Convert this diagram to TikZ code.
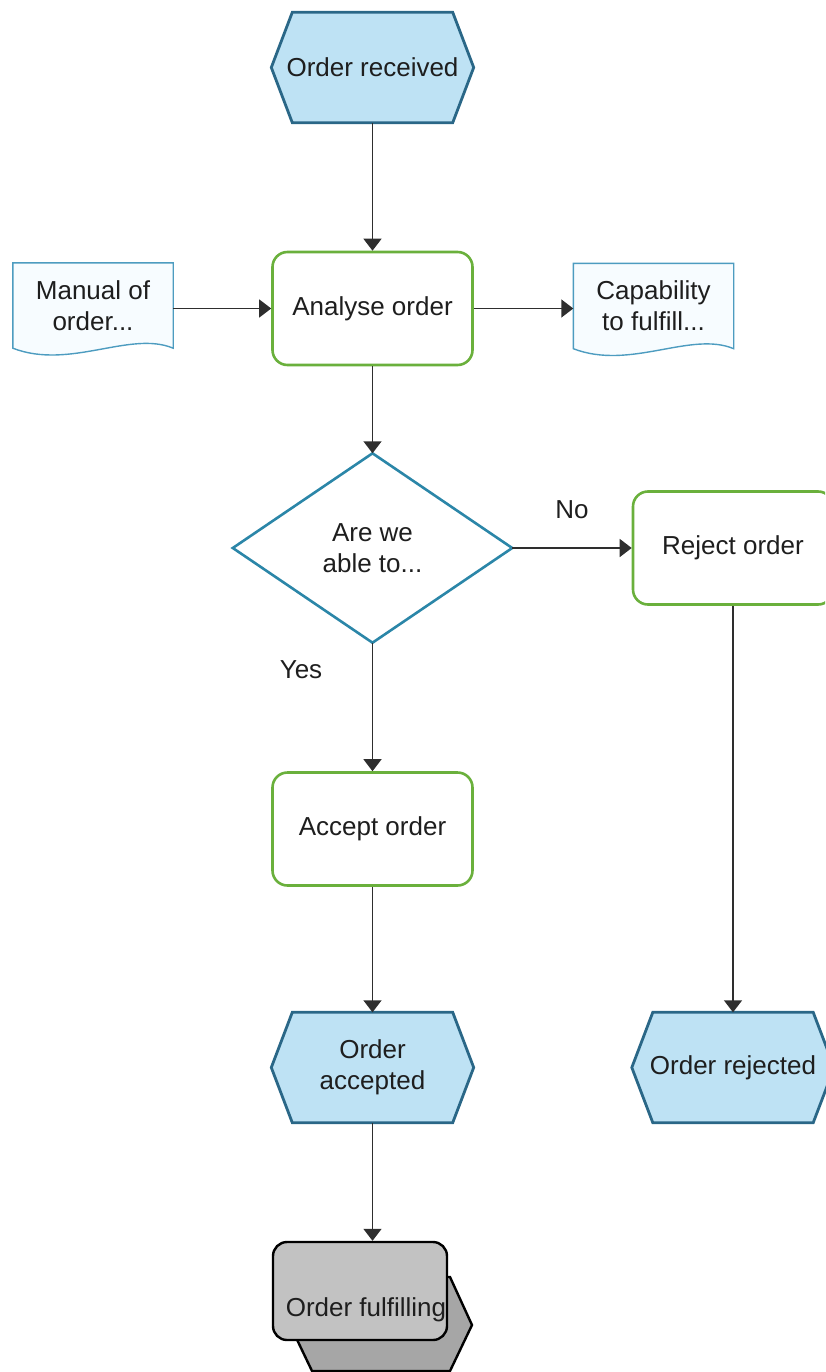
\documentclass[tikz,border=0pt]{standalone}
\usepackage{fontspec}
\setmainfont{Liberation Sans}
\usetikzlibrary{arrows.meta,backgrounds,calc}
\definecolor{hexfill}{HTML}{BEE2F4}
\definecolor{hexdraw}{HTML}{2A6787}
\definecolor{docdraw}{HTML}{4D9CC0}
\definecolor{docfill}{HTML}{F7FCFF}
\definecolor{fndraw}{HTML}{6AB03C}
\definecolor{decdraw}{HTML}{2B86A8}
\definecolor{arrowcol}{HTML}{2E2E2E}
\definecolor{txt}{HTML}{1E1E1E}
\definecolor{grayfront}{HTML}{C2C2C2}
\definecolor{grayback}{HTML}{A6A6A6}
\begin{document}
\begin{tikzpicture}[x=1pt,y=-1pt,
 every node/.style={font=\fontsize{26}{31}\selectfont, text=txt, align=center, inner sep=0pt},
 evt/.style={minimum width=202pt, minimum height=110pt},
 evtshape/.style={fill=hexfill, draw=hexdraw, line width=2.8pt, line join=miter},
 fn/.style={draw=fndraw, fill=white, line width=2.6pt, rounded corners=15pt, minimum width=200pt, minimum height=113pt},
 docnode/.style={minimum width=160pt, minimum height=85pt},
 docshape/.style={fill=docfill, draw=docdraw, line width=1.4pt},
 dec/.style={minimum width=279pt, minimum height=189pt},
 decshape/.style={fill=white, draw=decdraw, line width=2.6pt},
 flow/.style={draw=arrowcol, line width=1.4pt, -{Triangle[length=12pt,width=18pt]}},
 grayfn/.style={draw=black, fill=grayfront, line width=2.4pt, rounded corners=14pt, minimum width=174pt, minimum height=98pt},
 grayback/.style={draw=black, fill=grayback, line width=2.4pt, line join=miter}
]
\clip (0,0) rectangle (825,1372);

% nodes
\node[evt] (recv) at (372.5,67.5) {Order received};
\node[fn] (analyse) at (372.5,308.5) {Analyse order};
\node[docnode] (manual) at (93,305.5) {Manual of\\order...};
\node[docnode] (capab) at (653.5,306) {Capability\\to fulfill...};
\node[dec] (decide) at (372.5,548) {Are we\\able to...};
\node[fn] (reject) at (733,548) {Reject order};
\node[fn] (accept) at (372.5,829) {Accept order};
\node[evt] (accepted) at (372.5,1067.5) {Order\\accepted};
\node[evt] (rejected) at (733,1067.5) {Order rejected};

% stacked process interface
\path[grayback] (290,1325) -- (312,1277) -- (450,1277) -- (472,1325) -- (450,1371) -- (312,1371) -- cycle;
\node[grayfn] (fulfil) at (360,1291) {};
\node (fulfiltext) at (366,1310) {Order fulfilling};

% labels
\node (no) at (572,510) {No};
\node (yes) at (301,670) {Yes};

% shapes drawn behind the texts
\begin{pgfonlayer}{background}
\foreach \n in {recv,accepted,rejected}
  \path[evtshape] (\n.west) -- ([xshift=21pt]\n.north west) -- ([xshift=-21pt]\n.north east)
    -- (\n.east) -- ([xshift=-21pt]\n.south east) -- ([xshift=21pt]\n.south west) -- cycle;
\foreach \n in {manual,capab}
  \path[docshape] (\n.south west) -- (\n.north west) -- (\n.north east) -- (\n.south east)
    .. controls ($(\n.south east)+(-43,-18)$) and ($(\n.south west)+(57,22)$) .. (\n.south west) -- cycle;
\path[decshape] (decide.north) -- (decide.east) -- (decide.south) -- (decide.west) -- cycle;
\end{pgfonlayer}

% connectors
\draw[flow] (recv.south) -- (analyse.north);
\draw[flow] (manual.east |- analyse.west) -- (analyse.west);
\draw[flow] (analyse.east) -- (capab.west |- analyse.east);
\draw[flow] (analyse.south) -- (decide.north);
\draw[flow] (decide.east) -- (reject.west);
\draw[flow] (decide.south) -- (accept.north);
\draw[flow] (accept.south) -- (accepted.north);
\draw[flow] (reject.south) -- (rejected.north);
\draw[flow] (accepted.south) -- (accepted.south |- fulfil.north);
\end{tikzpicture}
\end{document}
